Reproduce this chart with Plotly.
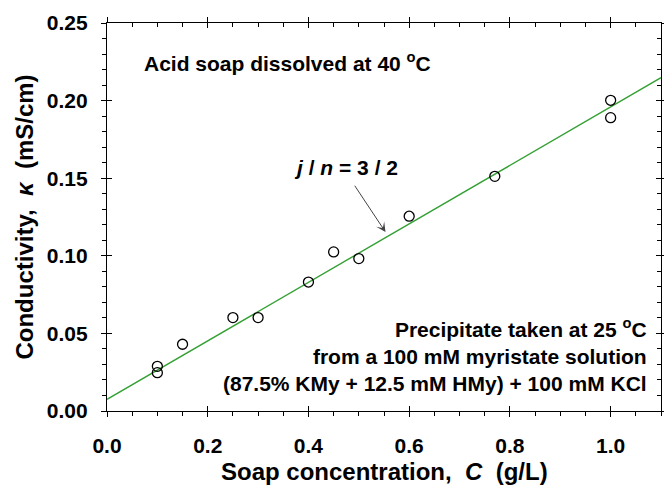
import plotly.graph_objects as go

# Data
conc = [0.10, 0.10, 0.15, 0.25, 0.30, 0.40, 0.45, 0.50, 0.60, 0.77, 1.00, 1.00]
kappa = [0.0288, 0.0247, 0.0430, 0.0602, 0.0602, 0.0831, 0.1025, 0.0982, 0.1255, 0.1512, 0.2002, 0.1890]

fit_x = [0.0, 1.1]
fit_y = [0.0075, 0.2148]

x_ticks = [0.0, 0.2, 0.4, 0.6, 0.8, 1.0]
x_tick_labels = ["0.0", "0.2", "0.4", "0.6", "0.8", "1.0"]
y_ticks = [0.00, 0.05, 0.10, 0.15, 0.20, 0.25]
y_tick_labels = ["0.00", "0.05", "0.10", "0.15", "0.20", "0.25"]

FONT = "Liberation Sans, Arial, sans-serif"
XR = [0, 1.1]
YR = [0, 0.25]

fig = go.Figure()
fig.add_trace(go.Scatter(x=fit_x, y=fit_y, mode="lines",
                         line=dict(color="#33a033", width=1.4), showlegend=False))
fig.add_trace(go.Scatter(x=conc, y=kappa, mode="markers",
                         marker=dict(symbol="circle-open", size=10, color="black",
                                     line=dict(width=1.3, color="black")),
                         showlegend=False))
# dummy traces to activate extra overlay axes used only for tick marks
for k in (2, 3, 4):
    fig.add_trace(go.Scatter(x=[None], y=[None], xaxis=f"x{k}", yaxis=f"y{k}",
                             showlegend=False, hoverinfo="skip"))

base = dict(showgrid=False, zeroline=False, linecolor="black", linewidth=1.3,
            tickcolor="black", tickwidth=1.3, automargin=False)


def tick_axis(rng, vals, side, direction, minor_dtick=None, showline=False, overlay=None):
    d = dict(range=rng, tickvals=vals, side=side, showticklabels=False,
             ticks=direction, ticklen=5, showline=showline, **base)
    if overlay:
        d["overlaying"] = overlay
    if minor_dtick:
        d["minor"] = dict(dtick=minor_dtick, ticks=direction, ticklen=4,
                          tickwidth=1, tickcolor="black")
    return d


fig.update_layout(
    width=664, height=489,
    margin=dict(l=107, r=3, t=23, b=78),
    paper_bgcolor="white", plot_bgcolor="white",
    xaxis=dict(range=XR, tickvals=x_ticks, ticktext=x_tick_labels,
               ticks="outside", ticklen=5, showline=True,
               minor=dict(dtick=0.05, ticks="outside", ticklen=4, tickwidth=1, tickcolor="black"),
               tickfont=dict(family=FONT, size=21, color="black", weight="bold"),
               ticklabelstandoff=11,
               **base),
    yaxis=dict(range=YR, tickvals=y_ticks, ticktext=y_tick_labels,
               ticks="outside", ticklen=5, showline=True,
               minor=dict(dtick=0.01, ticks="outside", ticklen=4, tickwidth=1, tickcolor="black"),
               tickfont=dict(family=FONT, size=21, color="black", weight="bold"),
               ticklabelstandoff=9,
               title=dict(text="Conductivity,  <i>κ</i>  (mS/cm)",
                          font=dict(family=FONT, size=24, color="black", weight="bold"),
                          standoff=6),
               **base),
    xaxis2=tick_axis(XR, x_ticks, "top", "inside", 0.05, showline=True, overlay="x"),
    yaxis2=tick_axis(YR, y_ticks, "right", "inside", 0.01, showline=True, overlay="y"),
    xaxis3=tick_axis(XR, x_ticks, "bottom", "inside", overlay="x"),
    yaxis3=tick_axis(YR, y_ticks, "left", "inside", overlay="y"),
    xaxis4=tick_axis(XR, x_ticks, "top", "outside", overlay="x"),
    yaxis4=tick_axis(YR, y_ticks, "right", "outside", overlay="y"),
)

# x-axis title (placed as paper annotation so it sits low like the reference)
fig.add_annotation(x=0.5, y=-0.197, xref="paper", yref="paper", xanchor="center", yanchor="bottom",
                   text="Soap concentration,  <i>C</i>  (g/L)", showarrow=False,
                   font=dict(family=FONT, size=24, color="black", weight="bold"))

fig.add_annotation(x=0.0695, y=0.2249, xref="x", yref="y", xanchor="left", yanchor="middle",
                   text="Acid soap dissolved at 40 <sup>o</sup>C", showarrow=False,
                   font=dict(family=FONT, size=21, color="black", weight="bold"))

fig.add_annotation(x=1.077, y=0.0359, xref="x", yref="y", xanchor="right", yanchor="middle",
                   align="right",
                   text=("Precipitate taken at 25 <sup>o</sup>C<br>"
                         "from a 100 mM myristate solution<br>"
                         "(87.5% KMy + 12.5 mM HMy) + 100 mM KCl"),
                   showarrow=False,
                   font=dict(family=FONT, size=21, color="black", weight="bold"))

fig.add_annotation(x=0.474, y=0.157, xref="x", yref="y", xanchor="center", yanchor="middle",
                   text="<i>j</i> / <i>n</i> = 3 / 2", showarrow=False,
                   font=dict(family=FONT, size=21, color="black", weight="bold"))

fig.add_annotation(x=0.553, y=0.1153, ax=0.490, ay=0.1461, xref="x", yref="y",
                   axref="x", ayref="y", text="", showarrow=True,
                   arrowhead=3, arrowsize=1.6, arrowwidth=1, arrowcolor="#444")

fig.write_html("out.html")
